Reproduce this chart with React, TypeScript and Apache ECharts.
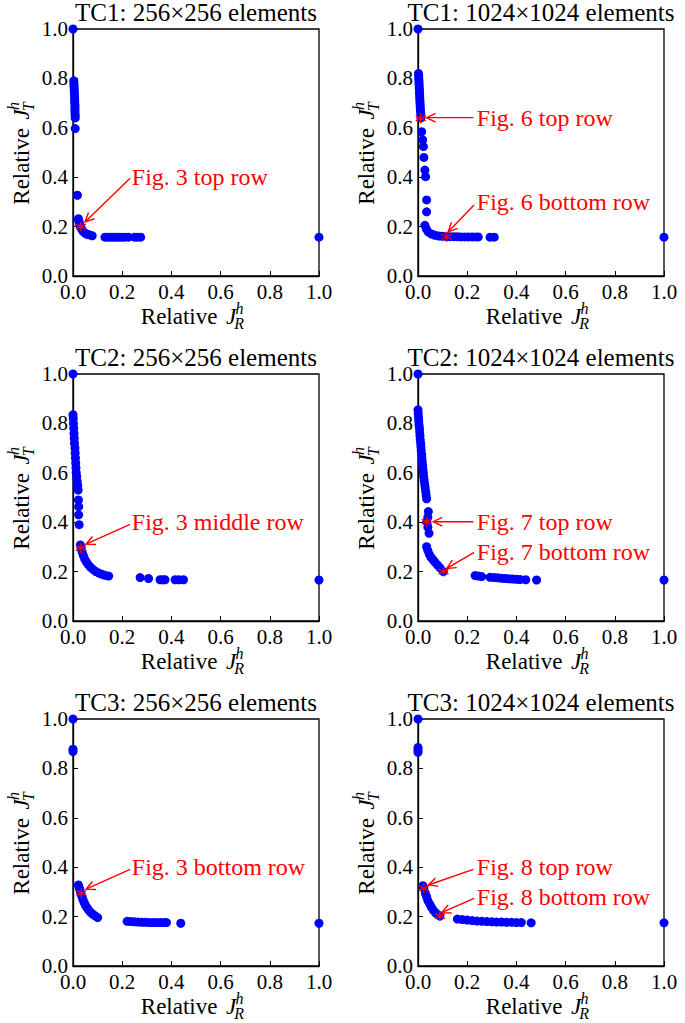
import React, { useEffect, useRef } from "react";
import * as echarts from "echarts";

const FONT = "Liberation Serif, DejaVu Serif, serif";

const titles = [
  "TC1: 256×256 elements",
  "TC1: 1024×1024 elements",
  "TC2: 256×256 elements",
  "TC2: 1024×1024 elements",
  "TC3: 256×256 elements",
  "TC3: 1024×1024 elements",
];

const tc1Coarse: number[][] = [
  [0.0, 1.0],
  [0.003, 0.79], [0.004, 0.78], [0.004, 0.77], [0.005, 0.76], [0.005, 0.75], [0.006, 0.74],
  [0.006, 0.73], [0.007, 0.72], [0.007, 0.71], [0.007, 0.7], [0.008, 0.69], [0.008, 0.68],
  [0.008, 0.67], [0.008, 0.66], [0.009, 0.65], [0.009, 0.64],
  [0.009, 0.597], [0.018, 0.327],
  [0.022, 0.232], [0.024, 0.222], [0.026, 0.212], [0.03, 0.2], [0.035, 0.19], [0.04, 0.182],
  [0.047, 0.175], [0.055, 0.17], [0.065, 0.167], [0.078, 0.163],
  [0.13, 0.157], [0.14, 0.157], [0.15, 0.157], [0.16, 0.157], [0.17, 0.157], [0.18, 0.157],
  [0.19, 0.157], [0.2, 0.157], [0.21, 0.157], [0.225, 0.157],
  [0.25, 0.157], [0.262, 0.157], [0.275, 0.157],
  [1.0, 0.157],
];
const tc1CoarseStars: number[][] = [[0.032, 0.2]];

const tc1Fine: number[][] = [
  [0.0, 1.0],
  [0.002, 0.82], [0.003, 0.81], [0.003, 0.8], [0.004, 0.79], [0.004, 0.78], [0.005, 0.77],
  [0.005, 0.76], [0.006, 0.75], [0.006, 0.74], [0.007, 0.73], [0.007, 0.72], [0.008, 0.71],
  [0.008, 0.7], [0.009, 0.69], [0.009, 0.68], [0.01, 0.67], [0.011, 0.66], [0.012, 0.65], [0.012, 0.64],
  [0.015, 0.584], [0.019, 0.551], [0.022, 0.524], [0.024, 0.48], [0.028, 0.429], [0.031, 0.402],
  [0.035, 0.308], [0.035, 0.26],
  [0.028, 0.205], [0.034, 0.19], [0.042, 0.178], [0.055, 0.17], [0.069, 0.165], [0.085, 0.162],
  [0.1, 0.161], [0.117, 0.159], [0.13, 0.159], [0.145, 0.159], [0.16, 0.159], [0.175, 0.158],
  [0.19, 0.158], [0.205, 0.158], [0.22, 0.158], [0.235, 0.158], [0.245, 0.158],
  [0.293, 0.157], [0.31, 0.157],
  [1.0, 0.157],
];
const tc1FineStars: number[][] = [[0.011, 0.638], [0.117, 0.159]];

const tc2Coarse: number[][] = [
  [0.0, 1.0],
  [0.0, 0.835], [0.001, 0.82], [0.002, 0.8], [0.003, 0.78], [0.004, 0.76], [0.005, 0.74],
  [0.006, 0.72], [0.008, 0.7], [0.009, 0.68], [0.01, 0.66], [0.011, 0.64], [0.012, 0.62],
  [0.013, 0.6], [0.015, 0.585], [0.017, 0.565], [0.019, 0.55], [0.021, 0.53],
  [0.022, 0.49], [0.023, 0.463], [0.023, 0.43], [0.025, 0.39],
  [0.03, 0.308], [0.033, 0.295], [0.037, 0.28], [0.042, 0.265], [0.048, 0.25], [0.055, 0.238],
  [0.063, 0.227], [0.072, 0.217], [0.082, 0.208], [0.093, 0.2], [0.105, 0.194], [0.118, 0.189],
  [0.13, 0.185], [0.145, 0.182],
  [0.273, 0.176], [0.307, 0.172], [0.354, 0.167], [0.365, 0.167], [0.374, 0.167],
  [0.415, 0.167], [0.43, 0.167], [0.449, 0.167],
  [1.0, 0.166],
];
const tc2CoarseStars: number[][] = [[0.032, 0.295]];

const tc2Fine: number[][] = [
  [0.0, 1.0],
  [0.0, 0.855], [0.001, 0.84], [0.002, 0.825], [0.003, 0.81], [0.004, 0.795], [0.006, 0.78],
  [0.007, 0.765], [0.008, 0.75], [0.009, 0.735], [0.011, 0.72], [0.012, 0.705], [0.013, 0.69],
  [0.015, 0.675], [0.016, 0.66], [0.017, 0.645], [0.019, 0.63], [0.02, 0.615], [0.022, 0.6],
  [0.023, 0.585], [0.025, 0.57], [0.027, 0.555], [0.029, 0.54], [0.031, 0.525], [0.033, 0.51],
  [0.035, 0.495],
  [0.042, 0.443], [0.04, 0.42], [0.036, 0.402], [0.04, 0.38], [0.045, 0.355],
  [0.035, 0.301], [0.04, 0.285], [0.046, 0.27], [0.053, 0.257], [0.062, 0.247], [0.07, 0.237],
  [0.08, 0.226], [0.09, 0.215], [0.103, 0.2],
  [0.232, 0.184], [0.245, 0.182], [0.259, 0.18], [0.293, 0.177], [0.31, 0.176], [0.325, 0.175],
  [0.34, 0.173], [0.355, 0.172], [0.37, 0.171], [0.385, 0.17], [0.4, 0.169], [0.415, 0.168],
  [0.438, 0.167], [0.482, 0.166],
  [1.0, 0.166],
];
const tc2FineStars: number[][] = [[0.036, 0.402], [0.104, 0.2]];

const tc3Coarse: number[][] = [
  [0.0, 1.0], [0.0, 0.878], [0.0, 0.868],
  [0.022, 0.328], [0.025, 0.318], [0.028, 0.308], [0.032, 0.295], [0.036, 0.282], [0.04, 0.27],
  [0.045, 0.258], [0.05, 0.247], [0.057, 0.236], [0.064, 0.226], [0.072, 0.217], [0.08, 0.21],
  [0.09, 0.203], [0.1, 0.196],
  [0.22, 0.181], [0.235, 0.18], [0.25, 0.179], [0.265, 0.178], [0.28, 0.177], [0.295, 0.177],
  [0.31, 0.176], [0.325, 0.176], [0.34, 0.176], [0.355, 0.176], [0.37, 0.176], [0.38, 0.176],
  [0.438, 0.173],
  [1.0, 0.173],
];
const tc3CoarseStars: number[][] = [[0.034, 0.295]];

const tc3Fine: number[][] = [
  [0.0, 1.0], [0.0, 0.885], [0.0, 0.875], [0.0, 0.865],
  [0.02, 0.325], [0.024, 0.315], [0.03, 0.295], [0.035, 0.28], [0.04, 0.265], [0.048, 0.25],
  [0.055, 0.237], [0.063, 0.225], [0.072, 0.215], [0.08, 0.208], [0.089, 0.202],
  [0.16, 0.19], [0.18, 0.188], [0.2, 0.186], [0.22, 0.184], [0.24, 0.182], [0.26, 0.181],
  [0.28, 0.18], [0.3, 0.179], [0.32, 0.178], [0.34, 0.178], [0.36, 0.177], [0.38, 0.177],
  [0.4, 0.176], [0.42, 0.176], [0.46, 0.175],
  [1.0, 0.175],
];
const tc3FineStars: number[][] = [[0.024, 0.315], [0.089, 0.202]];

const panelPoints = [tc1Coarse, tc1Fine, tc2Coarse, tc2Fine, tc3Coarse, tc3Fine];
const panelStars = [tc1CoarseStars, tc1FineStars, tc2CoarseStars, tc2FineStars, tc3CoarseStars, tc3FineStars];

// annotation texts and [textX, textY, tailX, tailY, tipX, tipY] (data coords)
const annotTexts = [
  ["Fig. 3 top row"],
  ["Fig. 6 top row", "Fig. 6 bottom row"],
  ["Fig. 3 middle row"],
  ["Fig. 7 top row", "Fig. 7 bottom row"],
  ["Fig. 3 bottom row"],
  ["Fig. 8 top row", "Fig. 8 bottom row"],
];
const annotCoords: number[][][] = [
  [[0.239, 0.402, 0.232, 0.396, 0.049, 0.219]],
  [[0.239, 0.641, 0.225, 0.641, 0.035, 0.641], [0.239, 0.301, 0.228, 0.287, 0.123, 0.179]],
  [[0.239, 0.402, 0.232, 0.391, 0.053, 0.311]],
  [[0.239, 0.402, 0.225, 0.402, 0.062, 0.402], [0.239, 0.281, 0.228, 0.278, 0.117, 0.213]],
  [[0.239, 0.402, 0.232, 0.391, 0.053, 0.311]],
  [[0.239, 0.402, 0.225, 0.391, 0.042, 0.328], [0.239, 0.281, 0.228, 0.274, 0.096, 0.216]],
];

const COL_LEFT = [73, 418];
const ROW_TOP = [29, 374, 719];
const GW = 246;
const GH = 247;

const TICK_FS = 21;
const LABEL_FS = 23;
const TITLE_FS = 25;
const ANNOT_FS = 24;

const STAR_PATH = "path://M5,0L5,10M0.67,2.5L9.33,7.5M0.67,7.5L9.33,2.5";

function txt(x: number, y: number, text: string, size: number, italic: boolean) {
  return {
    type: "text",
    x,
    y,
    style: {
      text,
      fontSize: size,
      fontFamily: FONT,
      fontStyle: italic ? "italic" : "normal",
      fill: "#000",
      align: "left",
      verticalAlign: "middle",
    },
  };
}

function axisLabelGroup(cx: number, cy: number, sub: string, rotate: boolean) {
  const f = LABEL_FS;
  const wRel = 3.45 * f;
  const wSpace = 0.25 * f;
  const wJ = 0.42 * f;
  const wSub = 0.42 * f;
  const W = wRel + wSpace + wJ + wSub;
  const x0 = -W / 2;
  const sf = Math.round(f * 0.7);
  const children: any[] = [
    txt(x0, 0, "Relative", f, false),
    txt(x0 + wRel + wSpace, 0, "J", f, true),
    txt(x0 + wRel + wSpace + wJ, -0.32 * f, "h", sf, true),
    txt(x0 + wRel + wSpace + wJ - 0.06 * f, 0.34 * f, sub, sf, true),
  ];
  return { type: "group", x: cx, y: cy, rotation: rotate ? Math.PI / 2 : 0, children };
}

export default function App() {
  const ref = useRef<HTMLDivElement>(null);

  useEffect(() => {
    if (!ref.current) return;
    const chart = echarts.init(ref.current, undefined, { renderer: "svg" });

    const grids: any[] = [];
    const xAxes: any[] = [];
    const yAxes: any[] = [];
    const series: any[] = [];
    const graphics: any[] = [];

    for (let i = 0; i < 6; i++) {
      const L = COL_LEFT[i % 2];
      const T = ROW_TOP[Math.floor(i / 2)];
      grids.push({ left: L, top: T, width: GW, height: GH, show: true, borderColor: "#000", borderWidth: 1.3, backgroundColor: "transparent" });
      const common = {
        type: "value",
        gridIndex: i,
        min: 0,
        max: 1,
        interval: 0.2,
        axisLine: { show: true, lineStyle: { color: "#000", width: 1.3 } },
        axisTick: { show: true, inside: true, length: 5, lineStyle: { color: "#000", width: 1 } },
        splitLine: { show: false },
      };
      xAxes.push({
        ...common,
        axisLabel: { formatter: (v: number) => v.toFixed(1), color: "#000", fontFamily: FONT, fontSize: TICK_FS, margin: 5 },
      });
      yAxes.push({
        ...common,
        axisLabel: { formatter: (v: number) => v.toFixed(1), color: "#000", fontFamily: FONT, fontSize: TICK_FS, margin: 5 },
      });

      series.push({
        type: "scatter",
        xAxisIndex: i,
        yAxisIndex: i,
        data: panelPoints[i],
        symbol: "circle",
        symbolSize: 9,
        itemStyle: { color: "#0000ff", opacity: 1 },
        clip: false,
        z: 2,
      });
      series.push({
        type: "scatter",
        xAxisIndex: i,
        yAxisIndex: i,
        data: panelStars[i],
        symbol: STAR_PATH,
        symbolSize: 10,
        itemStyle: { color: "transparent", borderColor: "#ff0000", borderWidth: 1.3, opacity: 1 },
        clip: false,
        z: 4,
      });
      const texts = annotTexts[i];
      series.push({
        type: "custom",
        coordinateSystem: "cartesian2d",
        xAxisIndex: i,
        yAxisIndex: i,
        data: annotCoords[i],
        clip: false,
        z: 5,
        renderItem: (params: any, api: any) => {
          const idx = params.dataIndex;
          const tp = api.coord([api.value(0), api.value(1)]);
          const a0 = api.coord([api.value(2), api.value(3)]);
          const a1 = api.coord([api.value(4), api.value(5)]);
          const ang = Math.atan2(a0[1] - a1[1], a0[0] - a1[0]);
          const hl = 10;
          const spread = 0.45;
          const h1 = [a1[0] + hl * Math.cos(ang + spread), a1[1] + hl * Math.sin(ang + spread)];
          const h2 = [a1[0] + hl * Math.cos(ang - spread), a1[1] + hl * Math.sin(ang - spread)];
          return {
            type: "group",
            children: [
              { type: "line", shape: { x1: a0[0], y1: a0[1], x2: a1[0], y2: a1[1] }, style: { stroke: "#ff0000", lineWidth: 1.4 } },
              { type: "polyline", shape: { points: [h1, a1, h2] }, style: { stroke: "#ff0000", lineWidth: 1.4, fill: "none" } },
              { type: "text", x: tp[0], y: tp[1], style: { text: texts[idx], fontSize: ANNOT_FS, fontFamily: FONT, fill: "#ff0000", align: "left", verticalAlign: "middle" } },
            ],
          };
        },
      });

      graphics.push({
        type: "text",
        x: L + GW / 2,
        y: T - 17,
        style: { text: titles[i], fontSize: TITLE_FS, fontFamily: FONT, fill: "#000", align: "center", verticalAlign: "middle" },
      });
      graphics.push(axisLabelGroup(L + GW / 2 - 3, T + GH + 40, "R", false));
      graphics.push(axisLabelGroup(L - 52, T + GH / 2, "T", true));
    }

    chart.setOption({
      animation: false,
      backgroundColor: "#fff",
      grid: grids,
      xAxis: xAxes,
      yAxis: yAxes,
      series,
      graphic: graphics,
    });

    return () => chart.dispose();
  }, []);

  return <div ref={ref} style={{ position: "fixed", left: 0, top: 0, width: 685, height: 1023 }} />;
}
